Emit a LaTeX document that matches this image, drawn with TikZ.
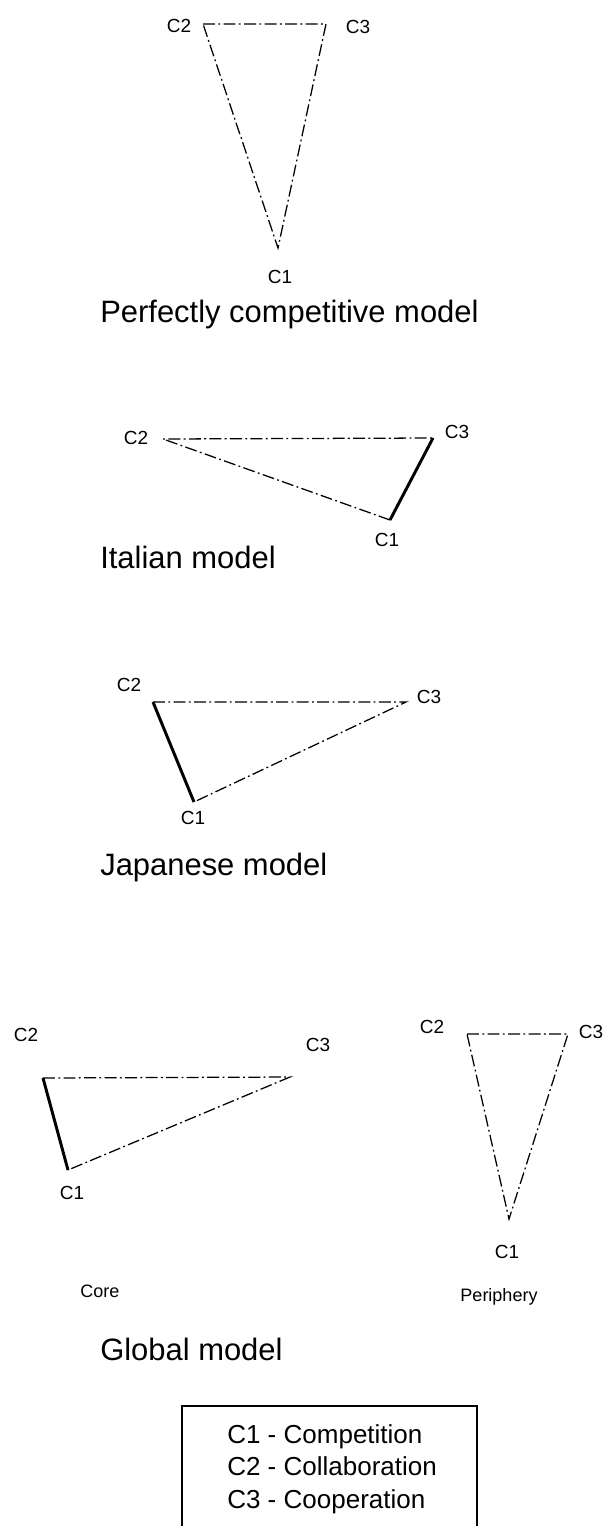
\documentclass[tikz,border=0pt]{standalone}
\usepackage{fontspec}
\setmainfont{Liberation Sans}
\usepackage{tikz}
\usetikzlibrary{positioning}

\tikzset{
  weak/.style={line width=0.9pt, dash pattern=on 8.5pt off 2.4pt on 1.3pt off 2.4pt},
  strong/.style={line width=2.1pt},
  vlabel/.style={font=\fontsize{13.5}{16}\selectfont, inner sep=0pt},
  sublabel/.style={font=\fontsize{12.8}{15}\selectfont, inner sep=0pt},
  modeltitle/.style={font=\fontsize{22}{26}\selectfont, inner sep=0pt, anchor=base west},
  keytext/.style={font=\fontsize{18.5}{23.1}\selectfont, inner sep=0pt, anchor=base west, align=left}
}

\begin{document}
\begin{tikzpicture}[x=0.025cm, y=-0.025cm]
  \clip (0,0) rectangle (604,1526);
  \fill[white] (0,0) rectangle (604,1526);

  % Perfectly competitive model
  \coordinate (pc1) at (278,248);
  \coordinate (pc2) at (203,24);
  \coordinate (pc3) at (326,24);
  \draw[weak] (pc2) -- (pc3) -- (pc1) -- cycle;
  \node[vlabel] (pcl1) at (280,277) {C1};
  \node[vlabel] (pcl2) at (179,26) {C2};
  \node[vlabel] (pcl3) at (358,27) {C3};
  \node[modeltitle] (pct) at (100,322) {Perfectly competitive model};

  % Italian model
  \coordinate (it1) at (390,520);
  \coordinate (it2) at (163,439);
  \coordinate (it3) at (433,438);
  \draw[weak] (it1) -- (it2) -- (it3);
  \draw[strong] (it3) -- (it1);
  \node[vlabel] (itl1) at (387,540) {C1};
  \node[vlabel] (itl2) at (136,438) {C2};
  \node[vlabel] (itl3) at (457,432) {C3};
  \node[modeltitle] (itt) at (100,568) {Italian model};

  % Japanese model
  \coordinate (jp1) at (194,802);
  \coordinate (jp2) at (153,702);
  \coordinate (jp3) at (406,702);
  \draw[weak] (jp2) -- (jp3) -- (jp1);
  \draw[strong] (jp1) -- (jp2);
  \node[vlabel] (jpl1) at (193,818) {C1};
  \node[vlabel] (jpl2) at (129,685) {C2};
  \node[vlabel] (jpl3) at (429,697) {C3};
  \node[modeltitle] (jpt) at (100,875) {Japanese model};

  % Global model: core
  \coordinate (co1) at (68,1170);
  \coordinate (co2) at (43,1078);
  \coordinate (co3) at (290,1077);
  \draw[weak] (co2) -- (co3) -- (co1);
  \draw[strong] (co1) -- (co2);
  \node[vlabel] (col1) at (72,1193) {C1};
  \node[vlabel] (col2) at (26,1035) {C2};
  \node[vlabel] (col3) at (318,1045) {C3};
  \node[sublabel] (cot) at (100,1291) {Core};

  % Global model: periphery
  \coordinate (pe1) at (509,1219);
  \coordinate (pe2) at (467,1034);
  \coordinate (pe3) at (568,1034);
  \draw[weak] (pe2) -- (pe3) -- (pe1) -- cycle;
  \node[vlabel] (pel1) at (507,1252) {C1};
  \node[vlabel] (pel2) at (432,1027) {C2};
  \node[vlabel] (pel3) at (591,1032) {C3};
  \node[sublabel] (pet) at (499,1297) {Periphery};
  \node[modeltitle] (glt) at (100,1360) {Global model};

  % Key
  \draw[line width=1.9pt] (182,1540) |- (477,1406) -- (477,1540);
  \node[keytext] (key) at (227,1508) {C1 - Competition\\C2 - Collaboration\\C3 - Cooperation};
\end{tikzpicture}
\end{document}
